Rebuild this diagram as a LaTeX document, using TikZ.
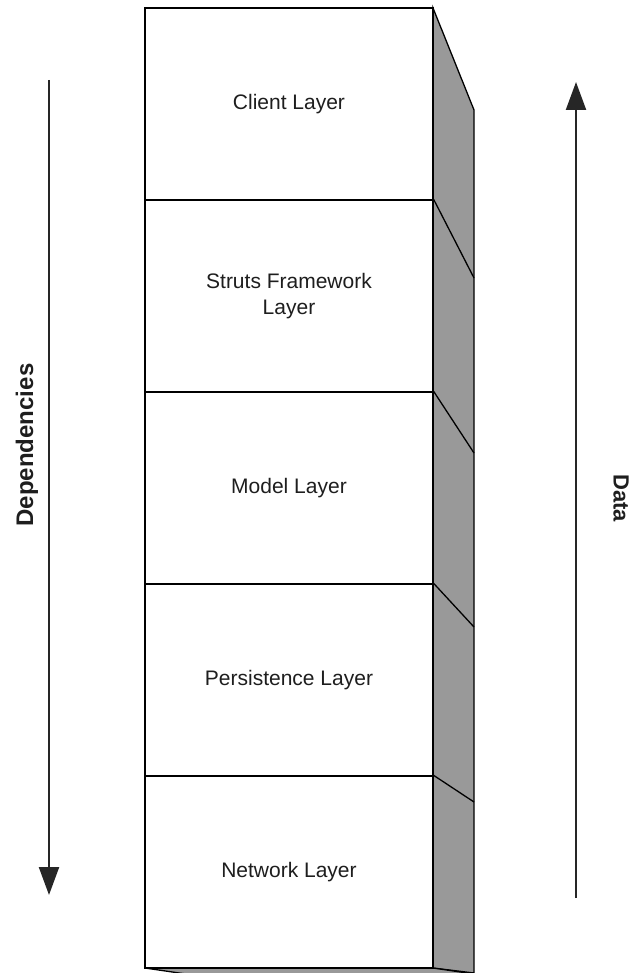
\documentclass[tikz,border=0pt]{standalone}
\usepackage{fontspec}
\setmainfont{Liberation Sans}
\usetikzlibrary{arrows.meta}
\definecolor{sidegray}{RGB}{153,153,153}
\definecolor{txt}{RGB}{30,30,30}
\tikzset{
  layerbox/.style={draw=black, line width=1.3pt, fill=white, minimum width=288pt, minimum height=192pt, inner sep=0pt, align=center, text=txt, font=\fontsize{21}{26}\selectfont},
  sideface/.style={draw=black, line width=1.3pt, fill=sidegray, line join=miter},
  sideline/.style={draw=black, line width=1.3pt},
  flowarrow/.style={draw=black!85, line width=2.2pt, -{Triangle[length=28pt,width=20pt]}},
  sidelabel/.style={font=\bfseries\fontsize{22}{26}\selectfont, text=txt}
}
\begin{document}
\begin{tikzpicture}[x=1pt,y=-1pt]
\useasboundingbox (0,0) rectangle (631,973);
% side face of the stack
\filldraw[sideface] (433,8) -- (474,110) -- (474,973) -- (433,968) -- cycle;
% bottom sliver
\filldraw[sideface] (145,968) -- (433,968) -- (474,974) -- (186,974) -- cycle;
% front layers
\node[layerbox] (client) at (289,104) {Client Layer};
\node[layerbox] (struts) at (289,296) {Struts Framework\\Layer};
\node[layerbox] (model) at (289,488) {Model Layer};
\node[layerbox] (persist) at (289,680) {Persistence Layer};
\node[layerbox] (network) at (289,872) {Network Layer};
% side divider lines
\draw[sideline] (struts.north east) -- (474,278);
\draw[sideline] (model.north east) -- (474,453);
\draw[sideline] (persist.north east) -- (474,627);
\draw[sideline] (network.north east) -- (474,802);
% arrows
\coordinate (depstart) at (49,80);
\coordinate (depend) at (49,895);
\coordinate (datastart) at (576,898);
\coordinate (dataend) at (576,82);
\draw[flowarrow] (depstart) -- (depend);
\draw[flowarrow] (datastart) -- (dataend);
\node[sidelabel, rotate=90, font=\bfseries\fontsize{24}{28}\selectfont] (deplabel) at (27,445) {Dependencies};
\node[sidelabel, rotate=-90] (datalabel) at (621,498) {Data};
\end{tikzpicture}
\end{document}
